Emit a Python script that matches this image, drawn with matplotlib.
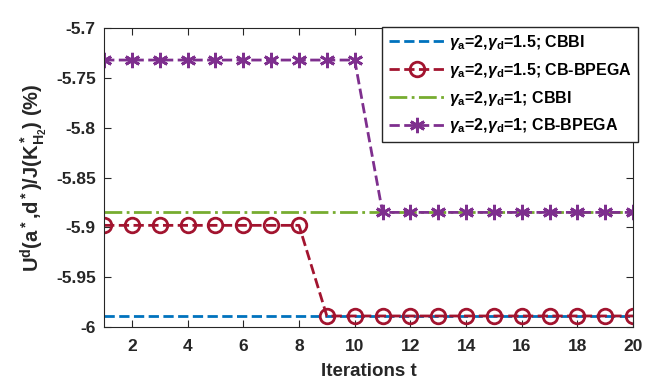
import numpy as np
import matplotlib
matplotlib.use("Agg")
import matplotlib.pyplot as plt

plt.rcParams['font.family'] = ['Liberation Sans', 'DejaVu Sans']
plt.rcParams['font.weight'] = 'bold'
plt.rcParams['mathtext.fontset'] = 'custom'
plt.rcParams['mathtext.rm'] = 'Liberation Sans:bold'
plt.rcParams['mathtext.it'] = 'Liberation Sans:italic'
plt.rcParams['mathtext.bf'] = 'Liberation Sans:bold'
plt.rcParams['axes.unicode_minus'] = False

# data
t = np.arange(1, 21)
cbbi_15 = [-5.989] * 20
bpega_15 = [-5.898] * 8 + [-5.989] * 12
cbbi_1 = [-5.885] * 20
bpega_1 = [-5.732] * 10 + [-5.885] * 10

yticks = [-6, -5.95, -5.9, -5.85, -5.8, -5.75, -5.7]
ytick_labels = ['-6', '-5.95', '-5.9', '-5.85', '-5.8', '-5.75', '-5.7']

labels = [r'$\gamma_{\rm a}$=2,$\gamma_{\rm d}$=1.5; CBBI',
          r'$\gamma_{\rm a}$=2,$\gamma_{\rm d}$=1.5; CB-BPEGA',
          r'$\gamma_{\rm a}$=2,$\gamma_{\rm d}$=1; CBBI',
          r'$\gamma_{\rm a}$=2,$\gamma_{\rm d}$=1; CB-BPEGA']

axc = '#262626'
fig = plt.figure(figsize=(6.63, 3.86), dpi=100)
ax = fig.add_axes([0.157, 0.153, 0.798, 0.774])

ax.plot(t, cbbi_15, '--', color='#0072BD', lw=2, label=labels[0])
ax.plot(t, bpega_15, '--', color='#A2142F', lw=2, marker='o', ms=10.5,
        mfc='none', mew=2, label=labels[1])
ax.plot(t, cbbi_1, '-.', color='#77AC30', lw=2, label=labels[2])
ax.plot(t, bpega_1, '--', color='#7E2F8E', lw=2, marker=(6, 2, 0), ms=11,
        mew=2, label=labels[3])

ax.set_xlim(1, 20)
ax.set_ylim(-6, -5.7)
ax.set_xticks(np.arange(2, 21, 2))
ax.set_yticks(yticks)
ax.set_yticklabels(ytick_labels)
ax.tick_params(direction='in', length=5, width=0.8, colors=axc,
               labelsize=12.5, top=True, right=True, pad=6)
ax.tick_params(axis='x', pad=9)
for lab in ax.get_xticklabels() + ax.get_yticklabels():
    lab.set_fontweight('bold')
for s in ax.spines.values():
    s.set_color(axc)
    s.set_linewidth(0.8)

ax.set_xlabel('Iterations t', fontsize=13.5, fontweight='bold', color=axc, labelpad=6)
ax.set_ylabel(r'U$^{\rm d}$(a$^{\rm *}$,d$^{\rm *}$)/J(K$^{\rm *}_{\rm H_2}$) (%)',
              fontsize=14.5, fontweight='bold', color=axc, labelpad=4)

leg = ax.legend(loc='upper right', bbox_to_anchor=(1.01, 1.005), borderaxespad=0,
                fontsize=11.5, handlelength=3.6, fancybox=False, framealpha=1,
                edgecolor=axc, labelspacing=0.55, handletextpad=0.2,
                borderpad=0.4)
leg.get_frame().set_linewidth(1)
for txt in leg.get_texts():
    txt.set_fontweight('bold')

fig.savefig('out.png', dpi=100)
